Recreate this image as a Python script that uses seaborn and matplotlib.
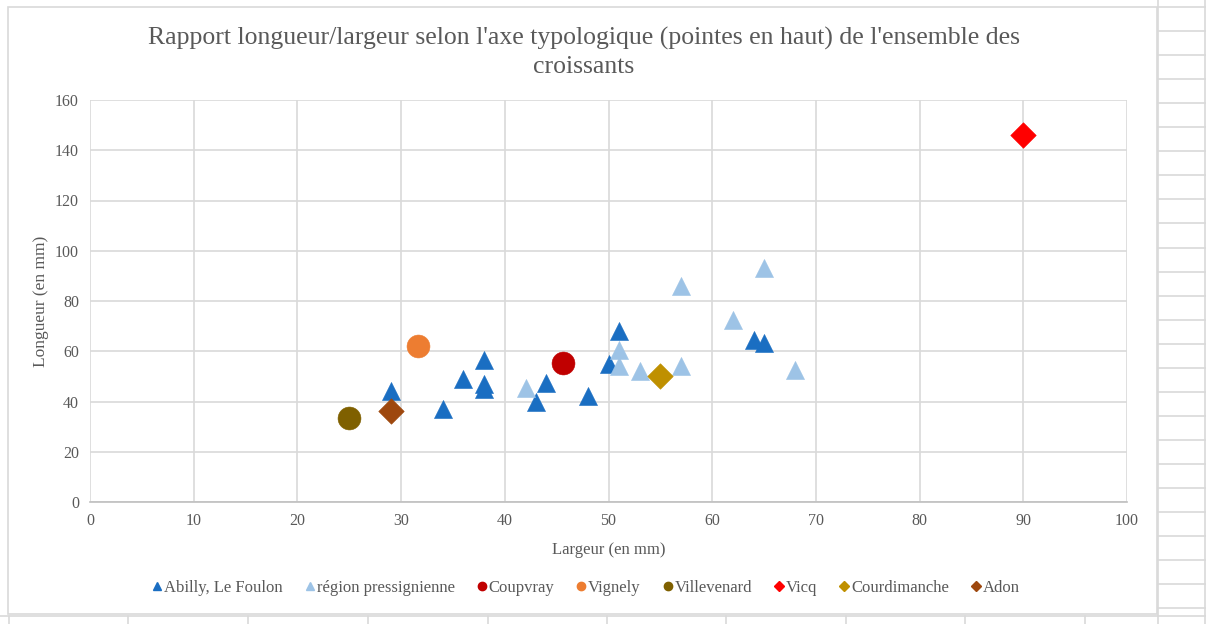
import matplotlib
matplotlib.use("Agg")
import matplotlib.pyplot as plt
from matplotlib.lines import Line2D
from matplotlib.patches import Rectangle
import seaborn as sns
import pandas as pd

sns.set_theme(style="white")
plt.rcParams['font.family'] = ['Liberation Serif', 'DejaVu Serif']

# ---- data ----
abilly_x = [29, 34, 36, 38, 38, 38, 43, 44, 48, 50, 51, 64, 65]
abilly_y = [44, 37, 49, 56.5, 47, 45, 40, 47.5, 42, 55, 68, 64.5, 63.2]
press_x = [42, 51, 51, 53, 57, 57, 62, 65, 68]
press_y = [45.4, 60.5, 54, 52, 86, 54, 72.4, 93, 52.5]
coupvray_x, coupvray_y = [45.6], [55.5]
vignely_x, vignely_y = [31.6], [62]
villevenard_x, villevenard_y = [25], [33.5]
vicq_x, vicq_y = [90], [146]
courdimanche_x, courdimanche_y = [55], [50]
adon_x, adon_y = [29], [36.3]

series = [
    ("Abilly, Le Foulon", abilly_x, abilly_y, "^", "#1A6EC2", 13),
    ("région pressignienne", press_x, press_y, "^", "#9DC3E6", 13),
    ("Coupvray", coupvray_x, coupvray_y, "o", "#C00000", 16.5),
    ("Vignely", vignely_x, vignely_y, "o", "#ED7D31", 16.5),
    ("Villevenard", villevenard_x, villevenard_y, "o", "#7F6000", 16.5),
    ("Vicq", vicq_x, vicq_y, "D", "#FF0000", 13),
    ("Courdimanche", courdimanche_x, courdimanche_y, "D", "#BF9000", 13),
    ("Adon", adon_x, adon_y, "D", "#9E480E", 13),
]

W, H = 1206, 624
fig = plt.figure(figsize=(W / 100, H / 100), dpi=100)
fig.patch.set_facecolor("white")

def fx(px):
    return px / W

def fy(py):
    return 1 - py / H

grid_c = "#D9D9D9"
# spreadsheet cell lines (background)
fig.add_artist(Line2D([fx(1158), fx(1158)], [fy(0), fy(624)], color=grid_c, lw=1.2, zorder=-20))
fig.add_artist(Line2D([fx(1205), fx(1205)], [fy(0), fy(624)], color=grid_c, lw=1.2, zorder=-20))
y = 7.0
while y < 624:
    fig.add_artist(Line2D([fx(1158), fx(1206)], [fy(y), fy(y)], color=grid_c, lw=1.2, zorder=-20))
    y += 24.05
fig.add_artist(Line2D([fx(0), fx(1206)], [fy(616), fy(616)], color=grid_c, lw=1.2, zorder=-20))
for xv in [9, 128, 248, 368, 488, 607, 726, 846, 965, 1085]:
    fig.add_artist(Line2D([fx(xv), fx(xv)], [fy(616), fy(624)], color=grid_c, lw=1.2, zorder=-20))
# chart area border
fig.add_artist(Rectangle((fx(8), fy(614)), fx(1157 - 8), (614 - 7) / H,
                         facecolor="white", edgecolor=grid_c, lw=1.2, zorder=-10))

ax = fig.add_axes([fx(90), fy(502), fx(1127 - 90), (502 - 100) / H])
ax.set_facecolor("white")

for name, xs, ys, mk, col, ms in series:
    df = pd.DataFrame({"x": xs, "y": ys})
    sns.scatterplot(data=df, x="x", y="y", marker=mk, color=col, s=ms ** 2,
                    edgecolor=col, linewidth=0.4, ax=ax, zorder=3, legend=False)

ax.set_xlim(0, 100)
ax.set_ylim(0, 160)
ax.set_xticks(range(0, 101, 10))
ax.set_yticks(range(0, 161, 20))
ax.grid(True, color=grid_c, lw=1.2)
ax.set_axisbelow(True)
for side in ["top", "right", "left"]:
    ax.spines[side].set_visible(False)
ax.spines["bottom"].set_color("#BFBFBF")
ax.spines["bottom"].set_linewidth(1.2)
ax.tick_params(axis="both", length=0, labelsize=11.5, labelcolor="#595959", pad=8)
ax.set_xlabel("Largeur (en mm)", fontsize=12, color="#595959", labelpad=9)
ax.set_ylabel("Longueur (en mm)", fontsize=12.5, color="#595959", labelpad=4)

fig.text(0.484, fy(38), "Rapport longueur/largeur selon l'axe typologique (pointes en haut) de l'ensemble des",
         ha="center", va="center", fontsize=18.5, color="#595959")
fig.text(0.484, fy(67), "croissants", ha="center", va="center", fontsize=18.5, color="#595959")

handles = []
for name, xs, ys, mk, col, ms in series:
    handles.append(Line2D([], [], marker=mk, color=col, linestyle="none",
                          markersize=6 if mk != "D" else 5, label=name))
fig.legend(handles=handles, loc="center", bbox_to_anchor=(0.486, fy(588)), ncol=8,
           frameon=False, fontsize=12, labelcolor="#595959", handlelength=0.6,
           handletextpad=0.1, columnspacing=1.33)

fig.savefig("out.png", dpi=100, facecolor="white")
